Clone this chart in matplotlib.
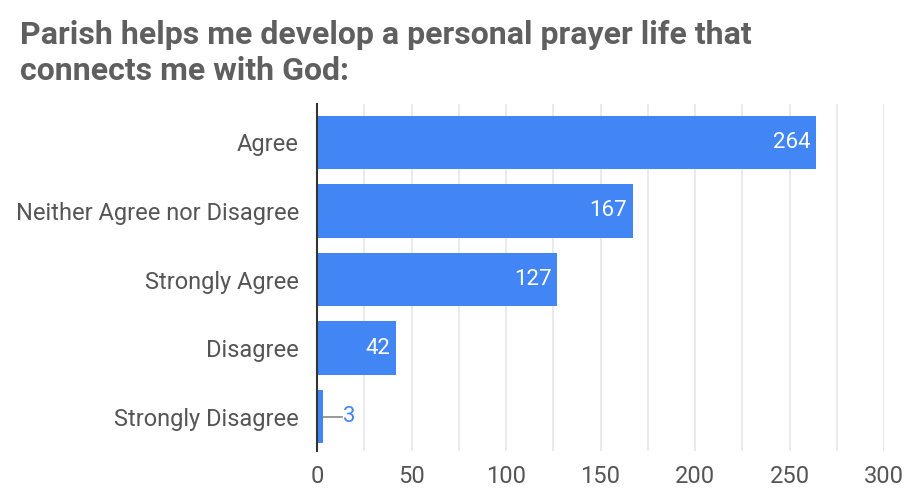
import matplotlib.pyplot as plt
import numpy as np

categories = ["Agree", "Neither Agree nor Disagree", "Strongly Agree", "Disagree", "Strongly Disagree"]
counts = [264, 167, 127, 42, 3]
title = "Parish helps me develop a personal prayer life that\nconnects me with God:"

plt.rcParams["font.family"] = ["Roboto", "DejaVu Sans"]

fig = plt.figure(figsize=(9.1, 4.99), dpi=100)
ax = fig.add_axes([317 / 910, 1 - 451 / 499, (884 - 317) / 910, (451 - 104) / 499])

y = np.arange(len(categories))
bars = ax.barh(y, counts, height=0.78, color="#4285f4", zorder=3)
ax.set_ylim(len(categories) - 0.5, -0.56)
ax.set_xlim(0, 300)

ax.set_xticks(np.arange(0, 301, 50))
ax.set_xticks(np.arange(25, 300, 50), minor=True)
ax.grid(axis="x", which="both", color="#e6e6e6", linewidth=1.2, zorder=0)
ax.tick_params(axis="x", which="both", length=0, labelsize=17, colors="#555555", pad=10)
ax.set_yticks(y, categories)
ax.tick_params(axis="y", length=0, labelsize=17, colors="#555555", pad=13)

for s in ["top", "right", "bottom"]:
    ax.spines[s].set_visible(False)
ax.spines["left"].set_color("#333333")
ax.spines["left"].set_linewidth(1.5)
ax.spines["left"].set_zorder(4)

for rect, v in zip(bars, counts):
    cy = rect.get_y() + rect.get_height() / 2
    if v > 20:
        ax.text(v - 3, cy, str(v), ha="right", va="center", color="white", fontsize=16, zorder=5)
    else:
        ax.plot([v, v + 10], [cy, cy], color="#888888", linewidth=1.2, zorder=4)
        ax.text(v + 11, cy, str(v), ha="left", va="center", color="#4285f4", fontsize=16, zorder=5)

fig.text(20 / 910, 1 - 20 / 499, title, ha="left", va="top", fontsize=23,
         fontweight="bold", color="#5f5f5f", linespacing=1.25)

fig.savefig("out.png", dpi=100)
